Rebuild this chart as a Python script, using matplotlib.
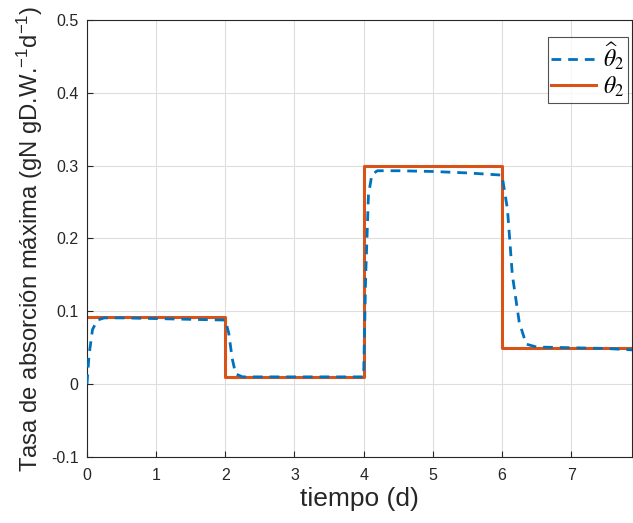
import numpy as np
import matplotlib
matplotlib.use('Agg')
import matplotlib.pyplot as plt

# ── Data ──────────────────────────────────────────────────────────────────────
# true parameter (piecewise constant)
t_true     = [0.0, 2.0, 2.0, 4.0, 4.0, 6.0, 6.0, 7.9]
theta_true = [0.092, 0.092, 0.010, 0.010, 0.300, 0.300, 0.050, 0.050]

# estimated parameter
t_est     = [0.0, 0.03, 0.08, 0.15, 0.25, 0.5, 1.0, 1.5, 2.0, 2.05, 2.1, 2.15, 2.25,
             3.0, 4.0, 4.03, 4.07, 4.12, 4.2, 4.5, 5.0, 5.5, 6.0, 6.08, 6.15,
             6.25, 6.35, 6.5, 7.0, 7.5, 7.9]
theta_est = [0.0, 0.04, 0.075, 0.088, 0.091, 0.091, 0.090, 0.089, 0.088, 0.07, 0.035,
             0.014, 0.010, 0.010, 0.010, 0.15, 0.26, 0.288, 0.293, 0.293, 0.292,
             0.290, 0.287, 0.24, 0.15, 0.085, 0.055, 0.051, 0.050, 0.049, 0.047]

x_ticks = [0, 1, 2, 3, 4, 5, 6, 7]
y_ticks = [-0.1, 0, 0.1, 0.2, 0.3, 0.4, 0.5]
y_tick_labels = ['-0.1', '0', '0.1', '0.2', '0.3', '0.4', '0.5']

plt.rcParams['font.family'] = ['Liberation Sans', 'DejaVu Sans']
plt.rcParams['mathtext.fontset'] = 'custom'
plt.rcParams['mathtext.rm'] = 'Liberation Sans'
plt.rcParams['mathtext.it'] = 'Liberation Sans:italic'

fig = plt.figure(figsize=(6.33, 5.23), dpi=100)
ax = fig.add_axes([0.1374, 0.1262, 0.861, 0.8356])

ax.plot(t_est, theta_est, '--', color='#0072BD', linewidth=2.0, dashes=(3.5, 2.5),
        label=r'$\widehat{\theta}_2$', zorder=3)
ax.plot(t_true, theta_true, '-', color='#D95319', linewidth=2.2,
        label=r'$\theta_2$', zorder=2)

ax.set_xlim(0, 7.88)
ax.set_ylim(-0.1, 0.5)
ax.set_xticks(x_ticks)
ax.set_yticks(y_ticks)
ax.set_yticklabels(y_tick_labels)
ax.tick_params(direction='in', labelsize=11.5, colors='#262626', length=4)
ax.tick_params(axis='x', pad=8)
ax.tick_params(axis='y', pad=6)
ax.grid(True, color='#dedede', linewidth=0.8)
for s in ax.spines.values():
    s.set_color('#262626')
    s.set_linewidth(0.8)

ax.set_xlabel('tiempo (d)', fontsize=19, color='#262626', labelpad=3)
ax.set_ylabel(r'Tasa de absorción máxima (gN gD.W.$^{-1}$d$^{-1}$)',
              fontsize=17.2, color='#262626', labelpad=4)

leg = ax.legend(loc='upper right', frameon=True, fancybox=False,
                edgecolor='#262626', handlelength=1.9, handletextpad=0.3,
                borderpad=0.15, labelspacing=0.1, borderaxespad=0,
                bbox_to_anchor=(0.993, 0.961),
                prop={'size': 17, 'math_fontfamily': 'stix'})
leg.get_frame().set_linewidth(0.8)

fig.savefig('out.png', dpi=100)
